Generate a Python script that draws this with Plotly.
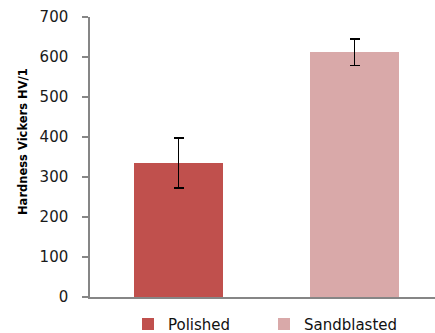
import plotly.graph_objects as go

categories = ["Polished", "Sandblasted"]
hardness = [335, 612]
errors = [62, 33]
colors = ["#C0504D", "#D9A9A9"]
legend_ids = ["legend", "legend2"]

fig = go.Figure()
for i, (name, val, err, col, lg) in enumerate(zip(categories, hardness, errors, colors, legend_ids)):
    fig.add_trace(go.Bar(
        x=[i], y=[val], name=name, width=0.505, legend=lg,
        marker=dict(color=col, line=dict(width=0)),
        error_y=dict(type="data", array=[err], visible=True, color="black", thickness=1.8, width=5),
    ))

legend_style = dict(orientation="h", yanchor="middle", y=-0.097, xanchor="left",
                    font=dict(family="DejaVu Sans", size=15, color="#111111"),
                    bgcolor="rgba(0,0,0,0)", itemwidth=30)
fig.update_layout(
    width=435, height=333,
    margin=dict(l=90, r=0, t=17, b=36, autoexpand=False),
    plot_bgcolor="white", paper_bgcolor="white",
    font=dict(family="DejaVu Sans, sans-serif", size=15, color="#1a1a1a"),
    showlegend=True,
    legend=dict(x=(128 - 90) / 345, **legend_style),
    legend2=dict(x=(264 - 90) / 345, **legend_style),
    bargap=0,
    annotations=[dict(text="<b>Hardness Vickers HV/1</b>", textangle=-90, xref="paper", yref="paper",
                      x=(23 - 90) / 345, y=(297 - 142) / 280, xanchor="center", yanchor="middle",
                      showarrow=False, font=dict(family="DejaVu Sans", size=11.5, color="black"))],
)
fig.update_xaxes(range=[-0.503, 1.457], showticklabels=False, ticks="", showline=True,
                 linecolor="#868686", linewidth=1.5, showgrid=False, zeroline=False, fixedrange=True)
fig.update_yaxes(range=[0, 700], dtick=100, ticks="outside", ticklen=6, tickcolor="#868686",
                 tickwidth=1.5, showline=True, linecolor="#868686", linewidth=1.5, showgrid=False,
                 zeroline=False, tickfont=dict(size=15), ticklabelstandoff=11, fixedrange=True)

fig.write_html("out.html", config={"displayModeBar": False},
               post_script="document.body.style.margin='0';")
